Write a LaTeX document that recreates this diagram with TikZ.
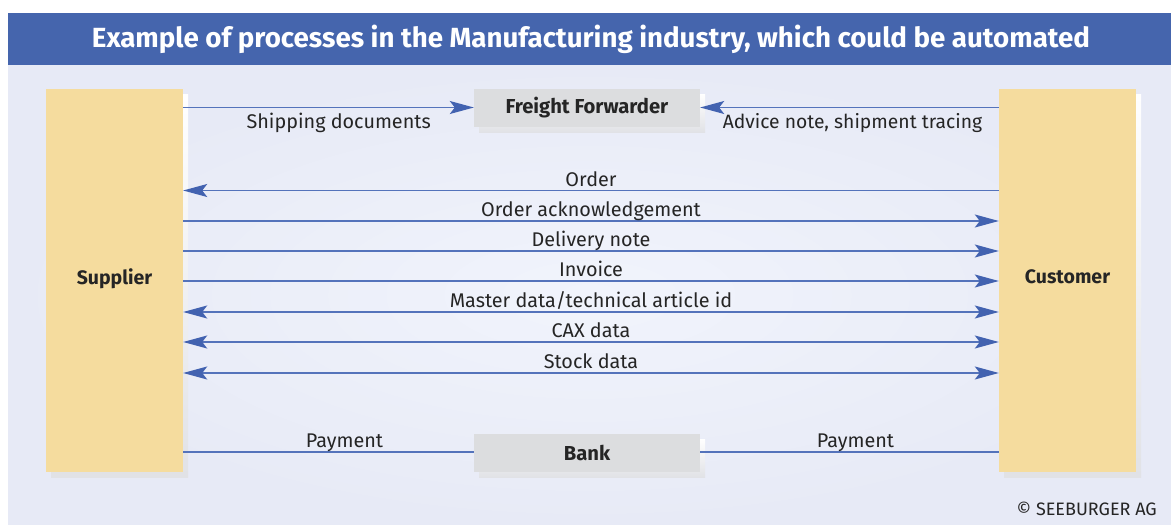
\documentclass[tikz,border=0pt]{standalone}
\usepackage{fontspec}
\setmainfont{Fira Sans}
\usetikzlibrary{arrows.meta,calc}
\definecolor{titleblue}{HTML}{4565AD}
\definecolor{bgout}{HTML}{E7EAF6}
\definecolor{bgin}{HTML}{F1F4FC}
\definecolor{partyyellow}{HTML}{F5DC9E}
\definecolor{boxgray}{HTML}{DCDDDF}
\definecolor{shadowgray}{HTML}{E1E2E6}
\definecolor{msgline}{HTML}{5473BB}
\definecolor{tipblue}{HTML}{4262B0}
\definecolor{txt}{HTML}{252525}
\tikzset{
  withshadow/.style={preaction={top color=white, bottom color=shadowgray, draw=none,
      transform canvas={xshift=5pt,yshift=-5pt}}},
  party/.style={withshadow, fill=partyyellow, draw=none, minimum width=137pt,
      minimum height=383pt, inner sep=0pt, font=\fontsize{19.5}{22}\selectfont\bfseries, text=txt},
  service/.style={withshadow, fill=boxgray, draw=none, minimum width=226pt,
      minimum height=38pt, inner sep=0pt, font=\fontsize{20.2}{22}\selectfont\bfseries, text=txt},
  msg/.style={draw=msgline, line width=1.3pt},
  tip/.style={-{Stealth[length=24pt,width=13pt,inset=5pt,color=tipblue]}},
  bitip/.style={{Stealth[length=24pt,width=13pt,inset=5pt,color=tipblue]}-{Stealth[length=24pt,width=13pt,inset=5pt,color=tipblue]}},
  lbl/.style={font=\fontsize{19.8}{22}\selectfont, text=txt, inner sep=0pt, anchor=base},
  lblabove/.style={lbl, yshift=4.5pt},
  lblbelow/.style={lbl, yshift=-20.8pt}
}
\begin{document}
\begin{tikzpicture}[x=1pt,y=-1pt]
\useasboundingbox (0,0) rectangle (1171,525);
% background panel
\shade[inner color=bgin, outer color=bgout] (8,65) rectangle (1171,525);
\fill[titleblue] (8,13) rectangle (1171,65);
\node[text=white, font=\fontsize{27.7}{30}\selectfont\bfseries] (title) at (591,39) {Example of processes in the Manufacturing industry, which could be automated};
% parties
\node[party] (sup) at (114.5,280.5) {\raisebox{8pt}{Supplier}};
\node[party] (cus) at (1067.5,280.5) {\raisebox{8pt}{Customer}};
\node[service] (ff) at (587,108) {\raisebox{-3pt}{Freight Forwarder}};
\node[service] (bank) at (587,453) {Bank};
% freight forwarder
\draw[msg,tip] (sup.east |- 0,107.5) -- (ff.west |- 0,107.5)
  node[lblbelow, pos=0.535] (l1) {Shipping documents};
\draw[msg,tip] (cus.west |- 0,107.5) -- (ff.east |- 0,107.5)
  node[lblbelow, pos=0.49, font=\fontsize{19.3}{22}\selectfont] (l2) {Advice note, shipment tracing};
% messages
\draw[msg,tip] (cus.west |- 0,190.5) -- (sup.east |- 0,190.5)
  node[lblabove, midway] (l3) {Order};
\draw[msg,tip] (sup.east |- 0,221) -- (cus.west |- 0,221)
  node[lblabove, midway] (l4) {Order acknowledgement};
\draw[msg,tip] (sup.east |- 0,251) -- (cus.west |- 0,251)
  node[lblabove, midway] (l5) {Delivery note};
\draw[msg,tip] (sup.east |- 0,281) -- (cus.west |- 0,281)
  node[lblabove, midway] (l6) {Invoice};
\draw[msg,bitip] (sup.east |- 0,312) -- (cus.west |- 0,312)
  node[lblabove, midway] (l7) {Master data/technical article id};
\draw[msg,bitip] (sup.east |- 0,342) -- (cus.west |- 0,342)
  node[lblabove, midway] (l8) {CAX data};
\draw[msg,bitip] (sup.east |- 0,373) -- (cus.west |- 0,373)
  node[lblabove, midway] (l9) {Stock data};
% payments
\draw[msg] (sup.east |- 0,452) -- (bank.west |- 0,452)
  node[lblabove, pos=0.555] (l10) {Payment};
\draw[msg] (bank.east |- 0,452) -- (cus.west |- 0,452)
  node[lblabove, pos=0.52] (l11) {Payment};
% copyright
\node[anchor=east, font=\fontsize{18}{20}\selectfont, text=txt, inner sep=0pt] (copy) at (1157,509) {© SEEBURGER AG};
\end{tikzpicture}
\end{document}
